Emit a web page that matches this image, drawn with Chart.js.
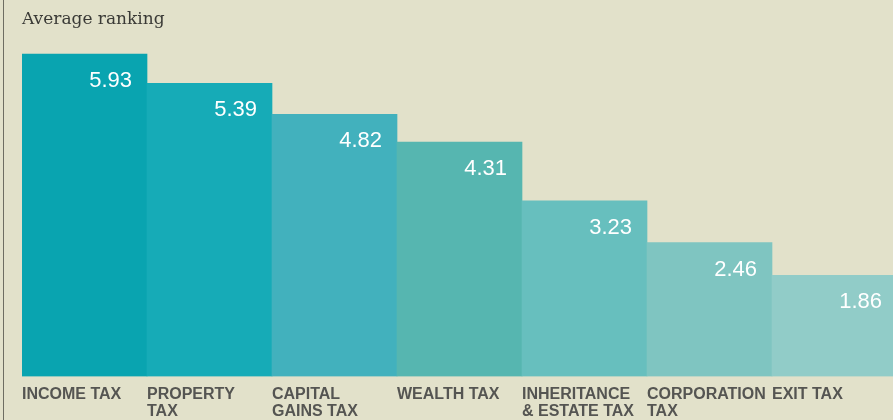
<!DOCTYPE html>
<html>
<head>
<meta charset="utf-8">
<script src="https://cdn.jsdelivr.net/npm/chart.js@4/dist/chart.umd.min.js"></script>
<style>
  html, body { margin: 0; padding: 0; overflow: hidden; background: #e2e1ca; }
  #wrap { position: relative; width: 900px; height: 440px; }
  #rule { position: absolute; left: 3px; top: 0; width: 1px; height: 440px; background: #6e6d62; }
</style>
</head>
<body>
<div id="wrap">
  <div id="rule"></div>
  <canvas id="c" width="900" height="440"></canvas>
</div>
<script>
const categories = [
  ["INCOME TAX"],
  ["PROPERTY", "TAX"],
  ["CAPITAL", "GAINS TAX"],
  ["WEALTH TAX"],
  ["INHERITANCE", "& ESTATE TAX"],
  ["CORPORATION", "TAX"],
  ["EXIT TAX"]
];
const averageRanking = [5.93, 5.39, 4.82, 4.31, 3.23, 2.46, 1.86];
const barColors = ["#09a4b0", "#16abb7", "#42b1bd", "#56b6b0", "#67bfbe", "#7fc5c1", "#91ccc8"];
const subtitleText = "Average ranking";

const valueLabels = {
  id: 'valueLabels',
  afterDatasetsDraw(chart) {
    const ctx = chart.ctx;
    const meta = chart.getDatasetMeta(0);
    ctx.save();
    ctx.font = '22px "Liberation Sans", Arial, sans-serif';
    ctx.fillStyle = '#ffffff';
    ctx.textAlign = 'right';
    ctx.textBaseline = 'alphabetic';
    meta.data.forEach((bar, i) => {
      const v = chart.data.datasets[0].data[i];
      ctx.fillText(v.toFixed(2), bar.x + bar.width / 2 - 15, bar.y + 33);
    });
    ctx.restore();
  }
};

new Chart(document.getElementById('c'), {
  type: 'bar',
  data: {
    labels: categories,
    datasets: [{
      data: averageRanking,
      backgroundColor: barColors,
      borderWidth: 0,
      barPercentage: 1,
      categoryPercentage: 1
    }]
  },
  options: {
    responsive: false,
    animation: false,
    devicePixelRatio: 1,
    layout: { padding: { left: 22, right: 3, top: 0, bottom: 10 } },
    plugins: {
      legend: { display: false },
      tooltip: { enabled: false },
      title: {
        display: true,
        text: subtitleText,
        align: 'start',
        color: '#3a3a36',
        font: { family: '"DejaVu Serif", serif', size: 17, weight: 'normal', lineHeight: 1.2 },
        padding: { top: 9, bottom: 10 }
      }
    },
    scales: {
      x: {
        grid: { display: false, drawTicks: false, drawOnChartArea: false },
        border: { display: false },
        afterFit(scale) { scale.paddingLeft = 0; scale.paddingRight = 0; },
        ticks: {
          align: 'start',
          labelOffset: -62.5,
          padding: 10,
          autoSkip: false,
          minRotation: 0,
          maxRotation: 0,
          color: '#555552',
          font: { family: '"Liberation Sans", Arial, sans-serif', size: 16, weight: 'bold', lineHeight: 1.05 }
        }
      },
      y: {
        display: false,
        min: 0,
        max: 6.2
      }
    }
  },
  plugins: [valueLabels]
});
</script>
</body>
</html>
